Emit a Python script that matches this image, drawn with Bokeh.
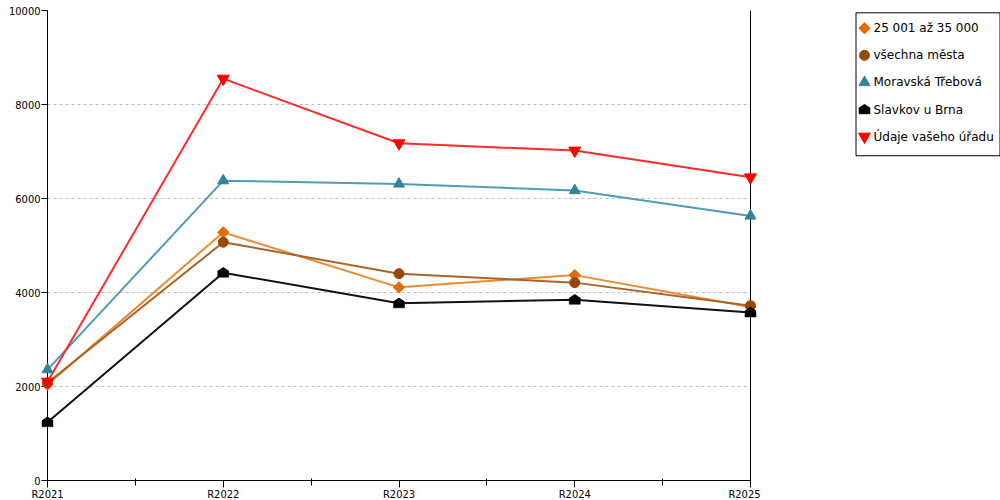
import math
from bokeh.plotting import figure
from bokeh.models import Range1d, FixedTicker, LinearAxis
from bokeh.layouts import row
from bokeh.core.properties import value
from bokeh.embed import file_html
from bokeh.resources import INLINE

categories = ["R2021", "R2022", "R2023", "R2024", "R2025"]
s_25001 = [2040, 5280, 4110, 4370, 3690]
s_all = [2080, 5070, 4400, 4210, 3720]
s_mt = [2360, 6380, 6310, 6170, 5630]
s_slavkov = [1240, 4420, 3770, 3845, 3575]
s_urad = [2100, 8550, 7175, 7020, 6450]
y_ticks = [0, 2000, 4000, 6000, 8000, 10000]
labels = ["25 001 až 35 000", "všechna města", "Moravská Třebová", "Slavkov u Brna", "Údaje vašeho úřadu"]

FONT = "DejaVu Sans Condensed"
x = list(range(len(categories)))
Y_MAX = 10000
FRAME_H = 470  # pixels

fig = figure(width=760, height=503, output_backend="svg", toolbar_location=None,
             x_range=Range1d(0, len(categories) - 1), y_range=Range1d(0, Y_MAX),
             min_border_left=47, min_border_top=10, min_border_bottom=23, min_border_right=10)
fig.outline_line_color = None
fig.background_fill_color = "white"
fig.border_fill_color = "white"

fig.xaxis.ticker = FixedTicker(ticks=x, minor_ticks=[i + 0.5 for i in x[:-1]])
fig.xaxis.major_label_overrides = {i: c for i, c in zip(x, categories)}
fig.yaxis.ticker = FixedTicker(ticks=y_ticks)
for ax in (fig.xaxis[0], fig.yaxis[0]):
    ax.axis_line_color = "black"
    ax.major_tick_line_color = "black"
    ax.major_tick_in = 0
    ax.major_tick_out = 7
    ax.major_label_text_font = FONT
    ax.major_label_text_font_size = "11px"
    ax.major_label_text_color = "black"
    ax.major_label_standoff = 1
fig.xaxis.major_label_standoff = 0
fig.xaxis.minor_tick_line_color = "black"
fig.xaxis.minor_tick_in = 2
fig.xaxis.minor_tick_out = 5
fig.yaxis.minor_tick_line_color = None
fig.yaxis.major_tick_out = 6

right = LinearAxis(ticker=FixedTicker(ticks=[]), major_tick_line_color=None,
                   minor_tick_line_color=None, axis_line_color="black",
                   major_tick_out=0, major_tick_in=0, major_label_standoff=0)
fig.add_layout(right, "right")

fig.xgrid.grid_line_color = None
fig.ygrid.grid_line_color = "#bbbbbb"
fig.ygrid.grid_line_dash = "3 3"
fig.ygrid.ticker = FixedTicker(ticks=y_ticks[1:])

styles = [
    ("#e36c09", "#ec8a34", "rdiamond", 8),
    ("#974806", "#a8642a", "circle", 10),
    ("#31849b", "#4f9db3", "triangle", 11),
    ("black", "#111111", "house", 11),
    ("#ff0000", "#ff2a2a", "inverted_triangle", 12),
]
series = [s_25001, s_all, s_mt, s_slavkov, s_urad]


def draw_marker(f, xs, ys, color, marker, size, down_px):
    """down_px: data units per screen pixel downwards (signed)."""
    rs = []
    kw = dict(fill_color=color, line_color=color)
    if marker == "house":
        body_y = [v + 1.5 * down_px for v in ys]
        roof_y = [v - 1.5 * down_px for v in ys]
        rs.append(f.rect(xs, body_y, width=size, height=6, width_units="screen",
                         height_units="screen", line_width=0.5, **kw))
        rs.append(f.scatter(xs, roof_y, marker="diamond", size=size, angle=math.pi / 2, **kw))
    elif marker == "rdiamond":
        rs.append(f.scatter(xs, ys, marker="square", size=size, angle=math.pi / 4, **kw))
    else:
        rs.append(f.scatter(xs, ys, marker=marker, size=size, **kw))
    for r in rs:
        r.level = "overlay"


for vals, (color, lcolor, marker, size) in zip(series, styles):
    rl = fig.line(x, vals, line_color=lcolor, line_width=2)
    rl.level = "overlay"
    draw_marker(fig, x, vals, color, marker, size, -Y_MAX / FRAME_H)

# legend panel (screen-like coordinates: x right, y down)
leg = figure(width=240, height=500, output_backend="svg", toolbar_location=None,
             x_range=Range1d(0, 240), y_range=Range1d(500, 0),
             min_border=0, x_axis_location=None, y_axis_location=None)
leg.outline_line_color = None
leg.grid.grid_line_color = None
leg.background_fill_color = "white"
leg.border_fill_color = "white"

leg.quad(left=95.5, right=239.5, top=2.5, bottom=155.5,
         fill_color="white", line_color="black", line_width=1)
item_y = [19 + 29 * i for i in range(len(labels))]
for yy, (color, lcolor, marker, size) in zip(item_y, styles):
    draw_marker(leg, [104], [yy], color, marker, size, 1.0)
leg.text(x=[113] * len(labels), y=item_y, text=labels,
         text_font=value("DejaVu Sans"), text_font_size="12px", text_color="black",
         text_baseline="middle", text_align="left")

p = row(fig, leg)
open("out.html", "w").write(file_html(p, INLINE))
